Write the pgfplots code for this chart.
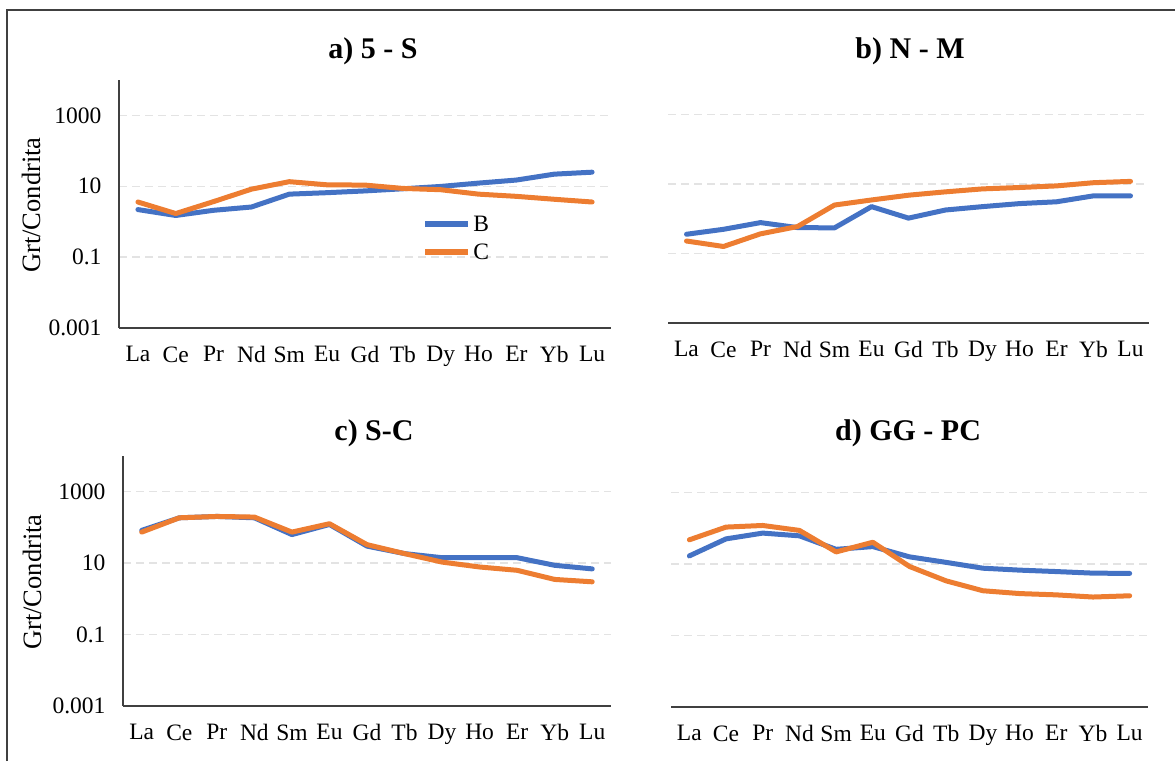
\documentclass[border=0pt]{standalone}
\usepackage{fontspec}
\setmainfont{Liberation Serif}
\usepackage{pgfplots}
\pgfplotsset{compat=1.18}

\definecolor{reeblue}{HTML}{4472C4}
\definecolor{reeorange}{HTML}{ED7D31}
\definecolor{gridgray}{HTML}{E3E3E3}
\definecolor{axisgray}{HTML}{404040}

\newcommand{\tickfont}{\fontsize{23.5}{26}\selectfont}
\newcommand{\titlefont}{\fontsize{30}{34}\selectfont\bfseries}
\newcommand{\labelfont}{\fontsize{26.5}{30}\selectfont}

% shared settings of the four REE panels
\pgfplotsset{
  every axis/.append style={
    scale only axis,
    ymode=log,
    ymin=0.001, ymax=10000,
    xmin=-0.5, xmax=12.5,
    xtick={0,...,12},
    xticklabels={La,Ce,Pr,Nd,Sm,Eu,Gd,Tb,Dy,Ho,Er,Yb,Lu},
    ytick={0.001,0.1,10,1000},
    yticklabels={0.001,0.1,10,1000},
    minor tick num=0,
    major tick length=0pt,
    ymajorgrids,
    major grid style={gridgray, line width=1.3pt, dash pattern=on 8pt off 5pt},
    axis x line*=bottom,
    axis y line*=left,
    axis line style={line width=1.5pt, axisgray},
    tick label style={font=\tickfont, text=black},
    xticklabel style={yshift=-15pt},
    yticklabel style={xshift=-14pt},
  },
  every axis plot/.append style={line width=5pt, line join=round, line cap=round},
}

\begin{document}
\begin{tikzpicture}
\path[use as bounding box] (0pt,0pt) rectangle (1175pt,761pt);
\draw[line width=1.5pt, axisgray] (7pt,0pt) -- (7pt,751pt) -- (1175pt,751pt);

% a) 5 - S
\begin{axis}[at={(119pt,433pt)}, anchor=south west, width=492pt, height=248pt,
  legend image code/.code={\draw[line width=6pt, line cap=butt] (0pt,0pt) -- (43pt,0pt);},
  legend style={at={(0.61,0.47)}, anchor=north west, draw=none, fill=none,
    font=\tickfont, row sep=7pt}, legend cell align=left]
\addplot[reeblue] coordinates {(0,2.2) (1,1.5) (2,2.1) (3,2.6) (4,6.0) (5,6.6) (6,7.4) (7,8.5) (8,9.9) (9,12.3) (10,15) (11,22) (12,25)};
\addlegendentry{B}
\addplot[reeorange] coordinates {(0,3.6) (1,1.7) (2,3.7) (3,8.3) (4,13.5) (5,11) (6,10.8) (7,8.7) (8,8.0) (9,6.0) (10,5.2) (11,4.3) (12,3.6)};
\addlegendentry{C}
\end{axis}

% b) N - M
\begin{axis}[at={(668pt,438pt)}, anchor=south west, width=481pt, height=243pt,
  y axis line style={draw=none}, yticklabels={}]
\addplot[reeblue] coordinates {(0,0.36) (1,0.50) (2,0.78) (3,0.56) (4,0.55) (5,2.25) (6,1.05) (7,1.8) (8,2.25) (9,2.75) (10,3.1) (11,4.6) (12,4.6)};
\addplot[reeorange] coordinates {(0,0.23) (1,0.16) (2,0.37) (3,0.6) (4,2.5) (5,3.5) (6,4.8) (7,6.0) (8,7.3) (9,8.0) (10,8.9) (11,11) (12,12)};
\end{axis}

% c) S-C
\begin{axis}[at={(123pt,55pt)}, anchor=south west, width=488pt, height=250pt]
\addplot[reeblue] coordinates {(0,83) (1,186) (2,203) (3,186) (4,63) (5,121) (6,30) (7,18.5) (8,14.2) (9,14.2) (10,14.2) (11,8.7) (12,6.9)};
\addplot[reeorange] coordinates {(0,74) (1,186) (2,203) (3,195) (4,74) (5,127) (6,33) (7,18.5) (8,10.7) (9,7.8) (10,6.3) (11,3.5) (12,3.0)};
\end{axis}

% d) GG - PC
\begin{axis}[at={(671pt,54pt)}, anchor=south west, width=477pt, height=250pt,
  y axis line style={draw=none}, yticklabels={}]
\addplot[reeblue] coordinates {(0,17) (1,51) (2,74) (3,62) (4,26) (5,31) (6,16) (7,11.2) (8,7.7) (9,6.8) (10,6.2) (11,5.6) (12,5.5)};
\addplot[reeorange] coordinates {(0,48) (1,109) (2,121) (3,88) (4,22) (5,41) (6,8.6) (7,3.4) (8,1.8) (9,1.5) (10,1.38) (11,1.2) (12,1.3)};
\end{axis}

% panel titles
\node[font=\titlefont, anchor=base] at (373pt,702pt) {a) 5 - S};
\node[font=\titlefont, anchor=base] at (910pt,702pt) {b) N - M};
\node[font=\titlefont, anchor=base] at (374pt,320pt) {c) S-C};
\node[font=\titlefont, anchor=base] at (908pt,320pt) {d) GG - PC};

% y axis labels
\node[font=\labelfont, rotate=90] at (31pt,556pt) {Grt/Condrita};
\node[font=\labelfont, rotate=90] at (32pt,179pt) {Grt/Condrita};
\end{tikzpicture}
\end{document}
